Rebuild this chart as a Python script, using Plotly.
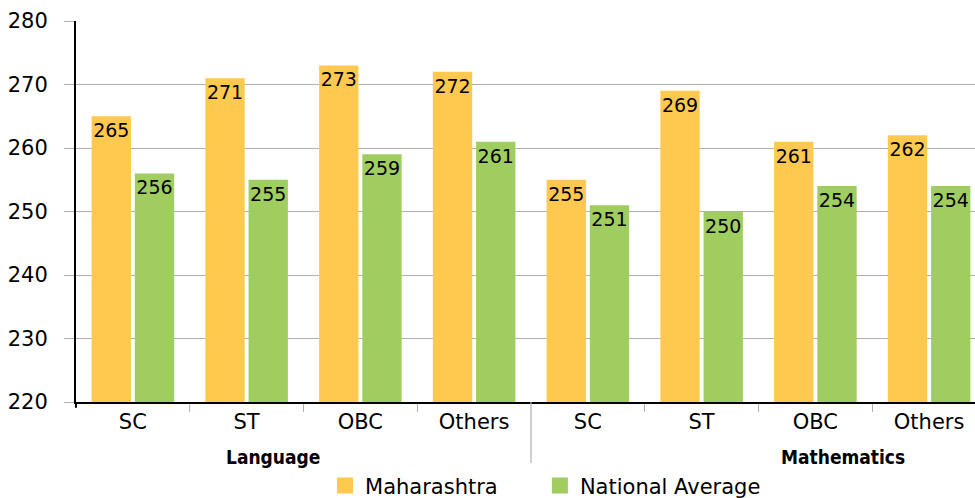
import plotly.graph_objects as go

subjects = ["Language"] * 4 + ["Mathematics"] * 4
categories = ["SC", "ST", "OBC", "Others", "SC", "ST", "OBC", "Others"]
maharashtra = [265, 271, 273, 272, 255, 269, 261, 262]
national = [256, 255, 259, 261, 251, 250, 254, 254]
y_ticks = [220, 230, 240, 250, 260, 270, 280]

ORANGE = "#FFC94F"
GREEN = "#A0CD60"
FONT = "DejaVu Sans"

xpos = list(range(len(categories)))

fig = go.Figure()
for vals, nm, col in [(maharashtra, "Maharashtra", ORANGE), (national, "National Average", GREEN)]:
    fig.add_trace(go.Bar(
        x=xpos, y=vals, name=nm, marker=dict(color=col, line=dict(width=0)),
        text=[str(v) for v in vals], textposition="inside",
        insidetextanchor="end", constraintext="none",
        textfont=dict(family=FONT, size=19, color="black"),
        showlegend=False, textangle=0, cliponaxis=True,
    ))
# legend entries (one legend each, to control spacing)
for nm, col, lg in [("Maharashtra", ORANGE, "legend"), ("National Average", GREEN, "legend2")]:
    fig.add_trace(go.Scatter(
        x=[None], y=[None], mode="markers", name=nm, legend=lg,
        marker=dict(symbol="square", size=16, color=col),
    ))

# group labels
group_pos = {"Language": 1.23, "Mathematics": 6.24}
for g, xp in group_pos.items():
    fig.add_annotation(
        x=xp, y=-0.145, xref="x", yref="paper", text="<b>" + g + "</b>",
        showarrow=False, yanchor="middle",
        font=dict(family="Liberation Sans Narrow, DejaVu Sans Condensed, Arial Narrow", size=19, color="black"),
    )
# group divider
fig.add_shape(type="line", x0=3.5, x1=3.5, xref="x", y0=0, y1=-0.16, yref="paper",
              line=dict(color="#B0B0B0", width=1.2))
# y-axis line extension below
fig.add_shape(type="line", x0=0, x1=0, xref="paper", y0=0, y1=-0.015, yref="paper",
              line=dict(color="black", width=2))

legend_common = dict(orientation="h", xanchor="left", y=-0.22, yanchor="middle",
                     font=dict(family=FONT, size=21, color="black"), itemclick=False,
                     itemwidth=30, bgcolor="rgba(0,0,0,0)")

fig.update_layout(
    width=975, height=498,
    margin=dict(l=76, r=0, t=21, b=96, autoexpand=False),
    plot_bgcolor="white", paper_bgcolor="white",
    barmode="group", bargap=0.24, bargroupgap=0.09,
    font=dict(family=FONT, size=20, color="black"),
    legend=dict(x=0.277, **legend_common),
    legend2=dict(x=0.516, **legend_common),
    xaxis=dict(
        range=[-0.5, 7.4033], tickmode="array", tickvals=xpos, ticktext=categories,
        showgrid=False, zeroline=False, showline=True, linecolor="black", linewidth=2,
        ticks="", tickfont=dict(family=FONT, size=21, color="black"),
        ticklabelstandoff=0, automargin=False,
        minor=dict(tickmode="array", tickvals=[0.5, 1.5, 2.5, 4.5, 5.5, 6.5],
                   ticks="outside", ticklen=8, tickcolor="#B0B0B0", tickwidth=1.2, showgrid=False),
    ),
    yaxis=dict(
        range=[220, 280], tickmode="array", tickvals=y_ticks,
        showgrid=True, gridcolor="#B0B0B0", gridwidth=1.2,
        zeroline=False, showline=True, linecolor="black", linewidth=2,
        ticks="outside", ticklen=10, tickcolor="#B0B0B0", tickwidth=1.2,
        tickfont=dict(family=FONT, size=21, color="black"),
        ticklabelstandoff=12, automargin=False,
    ),
)

fig.write_html("out.html", config={"displayModeBar": False},
               post_script="document.body.style.margin='0';document.body.style.overflow='hidden';")
